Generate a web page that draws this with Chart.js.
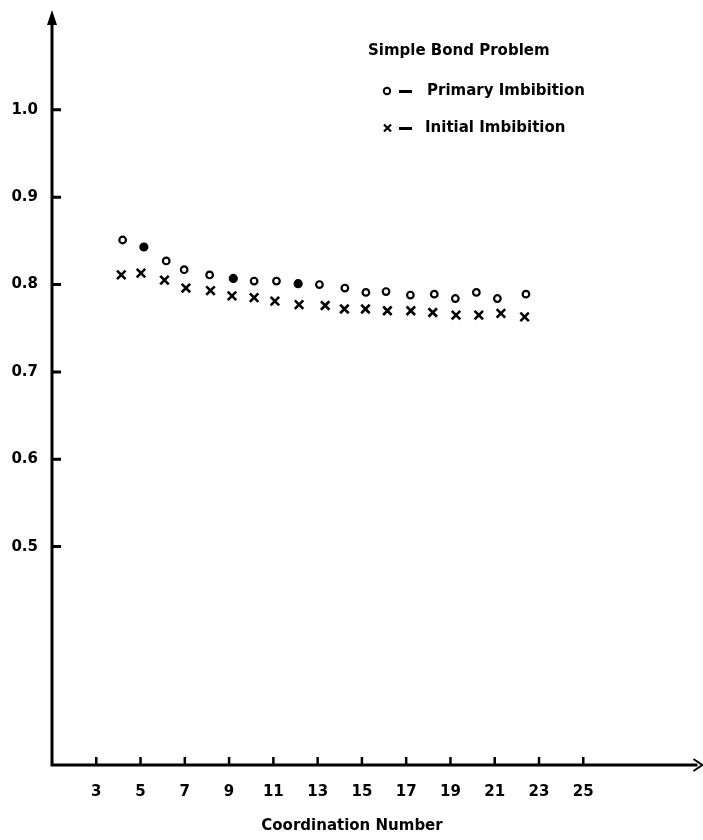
<!DOCTYPE html>
<html><head><meta charset="utf-8">
<script src="https://cdn.jsdelivr.net/npm/chart.js@4.4.0/dist/chart.umd.min.js"></script>
<style>html,body{margin:0;padding:0;background:#fff;} #wrap{width:703px;height:840px;}</style>
</head><body><div id="wrap"><canvas id="c" width="703" height="840"></canvas></div>
<script>
// ---- data ----
const coordPrimary  = [4.19,5.15,6.16,6.97,8.12,9.19,10.13,11.14,12.12,13.08,14.23,15.18,16.09,17.19,18.27,19.22,20.17,21.12,22.41];
const valuesPrimary = [0.851,0.843,0.827,0.817,0.811,0.807,0.804,0.804,0.801,0.800,0.796,0.791,0.792,0.788,0.789,0.784,0.791,0.784,0.789];
const coordInitial  = [4.13,5.02,6.08,7.05,8.16,9.13,10.13,11.07,12.16,13.34,14.21,15.16,16.15,17.21,18.20,19.25,20.28,21.28,22.35];
const valuesInitial = [0.811,0.813,0.805,0.796,0.793,0.787,0.785,0.781,0.777,0.776,0.772,0.772,0.770,0.770,0.768,0.765,0.765,0.767,0.763];
const xTickLabels = [3,5,7,9,11,13,15,17,19,21,23,25];
const yTickLabels = [0.5,0.6,0.7,0.8,0.9,1.0];
const legendTitle = 'Simple Bond Problem';
const seriesNames = ['Primary Imbibition','Initial Imbibition'];
const xAxisTitle = 'Coordination Number';
const filledPrimary = [1,5,8]; // points printed as solid dots in the original

const FONT = "'DejaVu Sans', 'Liberation Sans', Arial, sans-serif";

const decor = {
  id: 'decor',
  afterDraw(chart) {
    const ctx = chart.ctx, a = chart.chartArea;
    const xs = chart.scales.x, ys = chart.scales.y;
    const xEnd = a.right + 7;
    ctx.save();
    ctx.strokeStyle = '#000'; ctx.fillStyle = '#000';
    // axes
    ctx.lineWidth = 3; ctx.lineCap = 'butt';
    ctx.beginPath();
    ctx.moveTo(a.left, a.bottom + 1.5); ctx.lineTo(a.left, a.top + 8);
    ctx.moveTo(a.left - 1.5, a.bottom); ctx.lineTo(xEnd - 4, a.bottom);
    ctx.stroke();
    // y arrow
    ctx.beginPath();
    ctx.moveTo(a.left, a.top - 2); ctx.lineTo(a.left - 5, a.top + 13); ctx.lineTo(a.left + 5, a.top + 13); ctx.closePath(); ctx.fill();
    // x arrow
    ctx.lineWidth = 2;
    ctx.beginPath();
    ctx.moveTo(xEnd - 8, a.bottom - 6); ctx.lineTo(xEnd + 1, a.bottom); ctx.lineTo(xEnd - 8, a.bottom + 6);
    ctx.stroke();
    // inward ticks
    ctx.lineWidth = 3;
    ctx.beginPath();
    yTickLabels.forEach(v => { const y = ys.getPixelForValue(v); ctx.moveTo(a.left, y); ctx.lineTo(a.left + 9, y); });
    ctx.stroke();
    ctx.lineWidth = 2.5;
    ctx.beginPath();
    xTickLabels.forEach(v => { const x = xs.getPixelForValue(v); ctx.moveTo(x, a.bottom); ctx.lineTo(x, a.bottom - 8); });
    ctx.stroke();
    // x axis title
    ctx.font = 'bold 15px ' + FONT;
    ctx.textAlign = 'center'; ctx.textBaseline = 'middle';
    ctx.fillText(xAxisTitle, 352, 826);
    // legend
    ctx.textAlign = 'left';
    ctx.fillText(legendTitle, 368, 51);
    ctx.fillText(seriesNames[0], 427, 91);
    ctx.fillText(seriesNames[1], 425, 128);
    ctx.fillRect(399, 90, 13, 3);
    ctx.fillRect(399, 127, 13, 3);
    ctx.lineWidth = 2;
    ctx.beginPath(); ctx.arc(387, 91, 3.2, 0, Math.PI * 2); ctx.stroke();
    ctx.lineWidth = 2.2;
    ctx.beginPath();
    ctx.moveTo(384, 124.5); ctx.lineTo(391, 131.5);
    ctx.moveTo(391, 124.5); ctx.lineTo(384, 131.5);
    ctx.stroke();
    ctx.restore();
  }
};

new Chart(document.getElementById('c'), {
  type: 'scatter',
  data: {
    datasets: [
      {
        label: seriesNames[0],
        data: coordPrimary.map((x, i) => ({x, y: valuesPrimary[i]})),
        pointStyle: 'circle',
        pointRadius: ctx => filledPrimary.includes(ctx.dataIndex) ? 3.5 : 3.3,
        pointBorderWidth: 2.2,
        borderColor: '#000',
        pointBackgroundColor: ctx => filledPrimary.includes(ctx.dataIndex) ? '#000' : '#fff',
        pointBorderColor: '#000'
      },
      {
        label: seriesNames[1],
        data: coordInitial.map((x, i) => ({x, y: valuesInitial[i]})),
        pointStyle: 'crossRot',
        pointRadius: 6,
        pointBorderWidth: 2.6,
        borderColor: '#000',
        pointBorderColor: '#000'
      }
    ]
  },
  options: {
    responsive: false,
    animation: false,
    events: [],
    layout: { padding: { top: 12, right: 3, left: 0, bottom: 0 } },
    plugins: { legend: { display: false }, tooltip: { enabled: false } },
    scales: {
      x: {
        type: 'linear', min: 1, max: 30.02,
        afterBuildTicks: s => { s.ticks = xTickLabels.map(v => ({ value: v })); },
        afterFit: s => { s.height = 75; s.paddingLeft = 0; s.paddingRight = 0; },
        grid: { display: false, drawTicks: false },
        border: { display: false },
        ticks: { color: '#000', padding: 18, maxRotation: 0, autoSkip: false,
                 font: { family: FONT, size: 15, weight: 'bold' }, callback: v => String(v) }
      },
      y: {
        type: 'linear', min: 0.25, max: 1.112,
        afterBuildTicks: s => { s.ticks = yTickLabels.map(v => ({ value: v })); },
        afterFit: s => { s.width = 52; s.paddingTop = 0; s.paddingBottom = 0; },
        grid: { display: false, drawTicks: false },
        border: { display: false },
        ticks: { color: '#000', padding: 14, autoSkip: false,
                 font: { family: FONT, size: 15, weight: 'bold' }, callback: v => Number(v).toFixed(1) }
      }
    }
  },
  plugins: [decor]
});
</script></body></html>
